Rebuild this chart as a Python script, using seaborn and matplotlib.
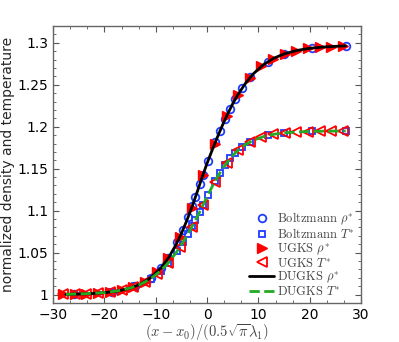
import numpy as np
import pandas as pd
import matplotlib
matplotlib.use("Agg")
import matplotlib.pyplot as plt
import seaborn as sns
from matplotlib.ticker import MultipleLocator, AutoMinorLocator

# Boltzmann reference data
boltz_x = [-26, -18.5, -14, -11, -9, -7.6, -5.8, -4.7, -3.7, -2.9, -2.3, -1.4, -0.8,
           0.2, 1.6, 2.5, 3.5, 4.5, 5.5, 6.8, 8.4, 11.9, 15.0, 20.5, 27.1]
boltz_rho = [1.0005, 1.0033, 1.0098, 1.0200, 1.0316, 1.0431, 1.0624, 1.0769, 1.0921,
             1.1053, 1.1157, 1.1319, 1.1429, 1.1597, 1.1815, 1.1948, 1.2087, 1.2214,
             1.2328, 1.2459, 1.2588, 1.2777, 1.2867, 1.2937, 1.2963]
boltz_T = [1.0006, 1.0035, 1.0098, 1.0188, 1.0286, 1.0374, 1.0520, 1.0625, 1.0728,
           1.0816, 1.0883, 1.0988, 1.1066, 1.1192, 1.1356, 1.1451, 1.1543, 1.1622,
           1.1689, 1.1758, 1.1820, 1.1897, 1.1927, 1.1944, 1.1949]

# UGKS data
ugks_x = [-28, -25.7, -23.5, -21.2, -18.9, -16.6, -14.4, -12.1, -9.8, -7.6, -5.3, -3.0,
          -0.8, 1.5, 3.8, 6.0, 8.3, 10.6, 12.8, 15.1, 17.4, 19.7, 21.9, 24.2, 26.5]
ugks_rho = [1.0003, 1.0005, 1.0010, 1.0017, 1.0030, 1.0052, 1.0089, 1.0154, 1.0264,
            1.0431, 1.0688, 1.1035, 1.1429, 1.1800, 1.2126, 1.2382, 1.2581, 1.2719,
            1.2810, 1.2869, 1.2908, 1.2932, 1.2946, 1.2955, 1.2961]
ugks_T = [1.0004, 1.0007, 1.0011, 1.0019, 1.0032, 1.0055, 1.0090, 1.0149, 1.0242,
          1.0374, 1.0566, 1.0805, 1.1066, 1.1346, 1.1569, 1.1718, 1.1816, 1.1876,
          1.1908, 1.1927, 1.1937, 1.1943, 1.1946, 1.1948, 1.1949]

# DUGKS data
dugks_x = [-27.5, -25, -22.5, -20, -17.5, -15, -13, -11, -9, -7.5, -6, -5, -4, -3, -2,
           -1, 0, 1, 2, 3, 4, 5, 6, 7.5, 9, 11, 13, 15, 17.5, 20, 22.5, 25, 27]
dugks_rho = [1.0003, 1.0007, 1.0012, 1.0023, 1.0042, 1.0077, 1.0125, 1.0200, 1.0316,
             1.0440, 1.0600, 1.0728, 1.0875, 1.1035, 1.1210, 1.1392, 1.1565, 1.1723,
             1.1875, 1.2018, 1.2152, 1.2274, 1.2382, 1.2519, 1.2630, 1.2740, 1.2816,
             1.2867, 1.2909, 1.2934, 1.2949, 1.2958, 1.2963]
dugks_T = [1.0004, 1.0008, 1.0014, 1.0024, 1.0044, 1.0078, 1.0122, 1.0188, 1.0286,
           1.0382, 1.0502, 1.0595, 1.0696, 1.0805, 1.0918, 1.1040, 1.1167, 1.1288,
           1.1400, 1.1499, 1.1584, 1.1658, 1.1718, 1.1788, 1.1838, 1.1883, 1.1910,
           1.1927, 1.1937, 1.1944, 1.1947, 1.1948, 1.1949]

sns.set_style("ticks")
plt.rcParams["font.family"] = ["DejaVu Sans"]
plt.rcParams["mathtext.fontset"] = "cm"

fig = plt.figure(figsize=(3.99, 3.42), dpi=100)
ax = fig.add_axes([0.133, 0.114, 0.772, 0.810])

common = dict(ax=ax, estimator=None, sort=False, linestyle="none")
sns.lineplot(x=boltz_x, y=boltz_rho, marker="o", markersize=5.5, markerfacecolor="none",
             markeredgecolor="#1f3cff", markeredgewidth=1.3, color="#1f3cff",
             label=r"$\mathrm{Boltzmann}\ \rho^{*}$", **common)
sns.lineplot(x=boltz_x, y=boltz_T, marker="s", markersize=5, markerfacecolor="none",
             markeredgecolor="#1f3cff", markeredgewidth=1.3, color="#1f3cff",
             label=r"$\mathrm{Boltzmann}\ T^{*}$", **common)
sns.lineplot(x=ugks_x, y=ugks_rho, marker=">", markersize=6.5, markerfacecolor="red",
             markeredgecolor="red", markeredgewidth=1.0, color="red",
             label=r"$\mathrm{UGKS}\ \rho^{*}$", **common)
sns.lineplot(x=ugks_x, y=ugks_T, marker="<", markersize=6.5, markerfacecolor="none",
             markeredgecolor="red", markeredgewidth=1.3, color="red",
             label=r"$\mathrm{UGKS}\ T^{*}$", **common)
sns.lineplot(x=dugks_x, y=dugks_rho, color="black", linewidth=2.0, ax=ax,
             estimator=None, sort=False, label=r"$\mathrm{DUGKS}\ \rho^{*}$")
sns.lineplot(x=dugks_x, y=dugks_T, color="#22aa22", linewidth=2.0, linestyle="--",
             dashes=(3, 2), ax=ax, estimator=None, sort=False,
             label=r"$\mathrm{DUGKS}\ T^{*}$")

ax.set_xlim(-30, 30)
ax.set_ylim(0.99, 1.32)
ax.xaxis.set_major_locator(MultipleLocator(10))
ax.xaxis.set_minor_locator(AutoMinorLocator(3))
ax.set_yticks([1, 1.05, 1.1, 1.15, 1.2, 1.25, 1.3])
ax.set_yticklabels(["1", "1.05", "1.1", "1.15", "1.2", "1.25", "1.3"])
ax.yaxis.set_minor_locator(AutoMinorLocator(5))
ax.tick_params(which="both", direction="in", top=True, right=True, colors="#555555",
               labelcolor="black", labelsize=10)
ax.tick_params(which="major", length=4)
ax.tick_params(which="minor", length=2)
for s in ax.spines.values():
    s.set_color("#666666")
    s.set_linewidth(1.0)

ax.set_ylabel("normalized density and temperature", fontsize=10, labelpad=2)
ax.set_xlabel(r"$(x-x_0)/(0.5\sqrt{\pi}\lambda_1)$", fontsize=10.5, color="#444444",
              labelpad=0)

leg = ax.legend(loc="lower right", frameon=False, fontsize=9, handlelength=2.0,
                handletextpad=0.2, labelspacing=0.0, borderaxespad=0.0,
                bbox_to_anchor=(0.995, 0.0))
for t in leg.get_texts():
    t.set_color("#444444")

fig.savefig("out.png", dpi=100)
